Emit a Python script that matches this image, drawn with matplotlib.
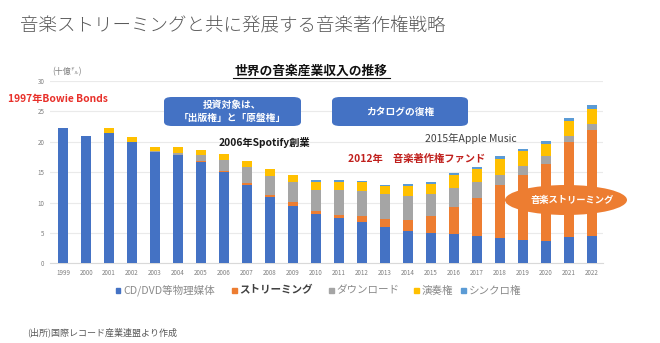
import matplotlib
matplotlib.use("Agg")
import matplotlib.pyplot as plt
import numpy as np
from matplotlib.patches import FancyBboxPatch, Ellipse, Rectangle
from matplotlib.lines import Line2D

plt.rcParams["font.family"] = ["Noto Sans CJK JP", "DejaVu Sans"]

# 世界の音楽産業収入（十億ドル）
years = list(range(1999, 2023))
physical = [22.2, 20.9, 21.4, 20.0, 18.3, 17.9, 16.7, 15.0, 12.9, 10.9, 9.45, 8.1,
            7.4, 6.8, 6.0, 5.3, 5.05, 4.85, 4.5, 4.1, 3.85, 3.75, 4.35, 4.5]
streaming = [0, 0, 0, 0, 0, 0, 0.1, 0.2, 0.3, 0.4, 0.6, 0.45,
             0.6, 0.95, 1.35, 1.8, 2.8, 4.4, 6.3, 8.8, 10.6, 12.6, 15.65, 17.5]
download = [0, 0, 0, 0, 0.1, 0.2, 1.0, 1.8, 2.6, 3.1, 3.35, 3.5,
            4.0, 4.1, 4.0, 3.9, 3.5, 3.1, 2.5, 1.6, 1.55, 1.35, 1.0, 0.9]
performance = [0, 0, 0.8, 0.8, 0.8, 1.0, 0.8, 1.0, 1.1, 1.2, 1.15, 1.3,
               1.3, 1.45, 1.3, 1.75, 1.65, 2.1, 2.25, 2.7, 2.4, 2.0, 2.35, 2.55]
sync = [0, 0, 0, 0, 0, 0, 0, 0, 0, 0, 0, 0.3,
        0.35, 0.3, 0.3, 0.25, 0.35, 0.33, 0.33, 0.38, 0.45, 0.5, 0.55, 0.55]

series = [
    ("CD/DVD等物理媒体", physical, "#4472C4"),
    ("ストリーミング", streaming, "#ED7D31"),
    ("ダウンロード", download, "#A5A5A5"),
    ("演奏権", performance, "#FFC000"),
    ("シンクロ権", sync, "#5B9BD5"),
]

W, H = 660, 343


def fx(x):
    return x / W


def fy(y):
    return 1 - y / H


fig = plt.figure(figsize=(6.6, 3.43), dpi=100)
ax = fig.add_axes([fx(50), fy(263.3), fx(603) - fx(50), fy(81) - fy(263.3)])

x = np.arange(len(years))
bottom = np.zeros(len(years))
for name, vals, color in series:
    vals = np.array(vals)
    ax.bar(x, vals, width=0.42, bottom=bottom, color=color, label=name, zorder=3)
    bottom += vals

ax.set_xlim(-0.57, 23.48)
ax.set_ylim(0, 30)
ax.set_yticks(range(0, 31, 5))
ax.set_xticks(x)
ax.set_xticklabels([str(y) for y in years])
ax.tick_params(axis="both", length=0, labelsize=4.5, labelcolor="#7f7f7f", pad=4)
ax.grid(axis="y", color="#eaeaea", linewidth=0.8, zorder=0)
for side in ("top", "right", "left"):
    ax.spines[side].set_visible(False)
ax.spines["bottom"].set_color("#d9d9d9")
ax.spines["bottom"].set_linewidth(0.8)

# 凡例
leg_items = [(116, 0), (232, 1), (329, 2), (414, 3), (461, 4)]
for px, i in leg_items:
    name, _, color = series[i]
    fig.add_artist(Rectangle((fx(px), fy(292.5)), 4.5 / W, 4.5 / H, color=color,
                             transform=fig.transFigure))
    bold = name == "ストリーミング"
    fig.text(fx(px + 7.5), fy(290.5), name, fontsize=7.6, va="center",
             color="#404040" if bold else "#8a8a8a",
             fontweight="bold" if bold else "normal")

# タイトル
fig.text(fx(20), fy(26), "音楽ストリーミングと共に発展する音楽著作権戦略",
         fontsize=13.3, color="#595959", va="center", fontweight="light")
fig.text(fx(311), fy(71), "世界の音楽産業収入の推移", fontsize=9.2,
         fontweight="bold", ha="center", va="center", color="#111111")
fig.add_artist(Line2D([fx(233), fx(390)], [fy(78), fy(78)], color="#111111",
                      linewidth=0.8, transform=fig.transFigure))
fig.text(fx(52), fy(72), "(十億㌦)", fontsize=5.8, color="#7f7f7f", va="center")

# 注記
fig.text(fx(8), fy(99), "1997年Bowie Bonds", fontsize=7.4, fontweight="bold",
         color="#e8302a", va="center")
fig.text(fx(219), fy(142), "2006年Spotify創業", fontsize=7.4, fontweight="bold",
         color="#1a1a1a", va="center")
fig.text(fx(348), fy(159), "2012年　音楽著作権ファンド", fontsize=7.4,
         fontweight="bold", color="#c0201d", va="center")
fig.text(fx(425), fy(138), "2015年Apple Music", fontsize=7.5, color="#404040",
         va="center")

for (x0, x1), label in [((164, 301), "投資対象は、\n「出版権」と「原盤権」"),
                        ((332, 468), "カタログの復権")]:
    fig.add_artist(FancyBboxPatch((fx(x0), fy(126)), fx(x1) - fx(x0), fy(97) - fy(126),
                                  boxstyle="round,pad=0,rounding_size=0.012",
                                  facecolor="#4472C4", edgecolor="none",
                                  transform=fig.transFigure))
    fig.text(fx((x0 + x1) / 2), fy(111.5), label, fontsize=7, fontweight="bold",
             color="white", ha="center", va="center", linespacing=1.3)

fig.add_artist(Ellipse((fx(566), fy(200)), 122 / W, 30 / H, facecolor="#ED7D31",
                       edgecolor="none", transform=fig.transFigure))
fig.text(fx(572), fy(200), "音楽ストリーミング", fontsize=6.7, fontweight="bold",
         color="white", ha="center", va="center")

fig.text(fx(27), fy(332), "(出所)国際レコード産業連盟より作成", fontsize=6.5,
         color="#595959", va="center")

fig.savefig("out.png", dpi=100)
